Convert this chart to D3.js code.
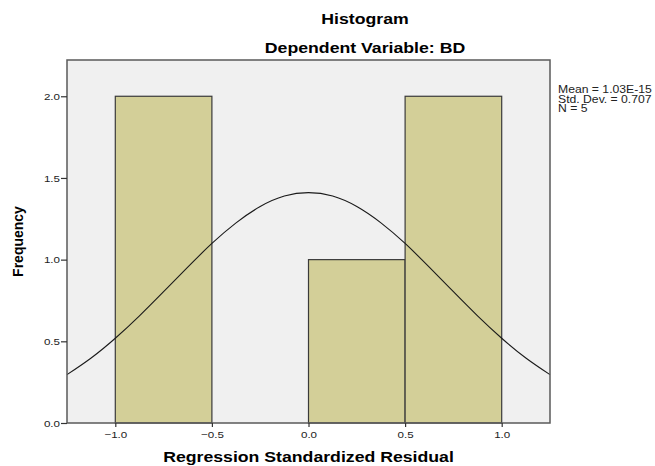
<!DOCTYPE html>
<html>
<head>
<meta charset="utf-8">
<script src="https://cdn.jsdelivr.net/npm/d3@7"></script>
<style>
  body { margin: 0; background: #fff; }
  text { font-family: Arial, "Liberation Sans", sans-serif; }
</style>
</head>
<body>
<svg id="chart" width="655" height="466" viewBox="0 0 655 466"></svg>
<script>
// histogram bins (lower edge, upper edge, frequency)
const binStarts = [-1.0, -0.5, 0.0, 0.5]
const binEnds = [-0.5, 0.0, 0.5, 1.0]
const binCounts = [2, 0, 1, 2]

// normal curve
const curveX = [-1.25, -1.125, -1.0, -0.875, -0.75, -0.625, -0.5, -0.375, -0.25, -0.125, 0, 0.125, 0.25, 0.375, 0.5, 0.625, 0.75, 0.875, 1.0, 1.125, 1.25]
const curveY = [0.296, 0.398, 0.519, 0.656, 0.804, 0.954, 1.099, 1.225, 1.325, 1.389, 1.41, 1.389, 1.325, 1.225, 1.099, 0.954, 0.804, 0.656, 0.519, 0.398, 0.296]

const xTicks = [-1.0, -0.5, 0.0, 0.5, 1.0]
const yTicks = [0.0, 0.5, 1.0, 1.5, 2.0]
const statLines = ["Mean = 1.03E-15", "Std. Dev. = 0.707", "N = 5"]

const svg = d3.select("#chart")
const plot = {left: 67, right: 550, top: 60, bottom: 423}
// the source picture is a bit stretched sideways, so text gets a wider x scale
const stretch = 1.22

const x = d3.scaleLinear().domain([-1.25, 1.25]).range([plot.left, plot.right])
const y = d3.scaleLinear().domain([0, 2.222]).range([plot.bottom, plot.top])

// plot background
svg.append("rect")
    .attr("x", plot.left).attr("y", plot.top)
    .attr("width", plot.right - plot.left).attr("height", plot.bottom - plot.top)
    .attr("fill", "#f0f0f0")

// bars
let bins = binStarts.map((s, i) => ({x0: s, x1: binEnds[i], n: binCounts[i]}))
svg.append("g").selectAll("rect")
    .data(bins.filter(d => d.n > 0))
    .enter()
    .append("rect")
    .attr("x", d => x(d.x0))
    .attr("y", d => y(d.n))
    .attr("width", d => x(d.x1) - x(d.x0))
    .attr("height", d => y(0) - y(d.n))
    .attr("fill", "#d3cf98")
    .attr("stroke", "#3a3a3a")
    .attr("stroke-width", 1.2)

// normal curve
let pts = curveX.map((v, i) => [v, curveY[i]])
svg.append("path")
    .datum(pts)
    .attr("fill", "none")
    .attr("stroke", "#1a1a1a")
    .attr("stroke-width", 1.1)
    .attr("d", d3.line().x(d => x(d[0])).y(d => y(d[1])).curve(d3.curveNatural))

// frame
svg.append("rect")
    .attr("x", plot.left).attr("y", plot.top)
    .attr("width", plot.right - plot.left).attr("height", plot.bottom - plot.top)
    .attr("fill", "none")
    .attr("stroke", "#5a5a5a")
    .attr("stroke-width", 1.5)

// axes
const xAxis = svg.append("g")
    .attr("transform", `translate(0,${plot.bottom})`)
    .call(d3.axisBottom(x).tickValues(xTicks).tickFormat(d3.format(".1f")).tickSize(4).tickPadding(4))
const yAxis = svg.append("g")
    .attr("transform", `translate(${plot.left},0)`)
    .call(d3.axisLeft(y).tickValues(yTicks).tickFormat(d3.format(".1f")).tickSize(6).tickPadding(1))

svg.selectAll(".domain").remove()
svg.selectAll(".tick line").attr("stroke", "#333").attr("stroke-width", 1.2)
svg.selectAll(".tick text").attr("font-size", 9.5).attr("fill", "#222")
    .attr("font-family", "Arial, 'Liberation Sans', sans-serif")
    .attr("transform", `scale(${stretch},1)`)
yAxis.selectAll(".tick text").attr("x", -7 / stretch)

// titles
let addText = function(cx, cy, size, label) {
    return svg.append("text")
        .attr("transform", `translate(${cx},${cy}) scale(${stretch},1)`)
        .attr("text-anchor", "middle")
        .attr("font-size", size).attr("font-weight", "bold")
        .text(label)
}
addText(365, 24, 14.5, "Histogram")
addText(365, 53, 14.5, "Dependent Variable: BD")
addText((plot.left + plot.right) / 2, 462, 14.5, "Regression Standardized Residual")

svg.append("text")
    .attr("transform", `translate(23,${(plot.top + plot.bottom) / 2}) rotate(-90)`)
    .attr("text-anchor", "middle")
    .attr("font-size", 14).attr("font-weight", "bold")
    .text("Frequency")

// stats legend
svg.append("g").selectAll("text")
    .data(statLines)
    .enter()
    .append("text")
    .attr("transform", (d, i) => `translate(558,${93 + i * 9.5}) scale(${stretch},1)`)
    .attr("font-size", 10)
    .attr("fill", "#222")
    .text(d => d)
</script>
</body>
</html>
